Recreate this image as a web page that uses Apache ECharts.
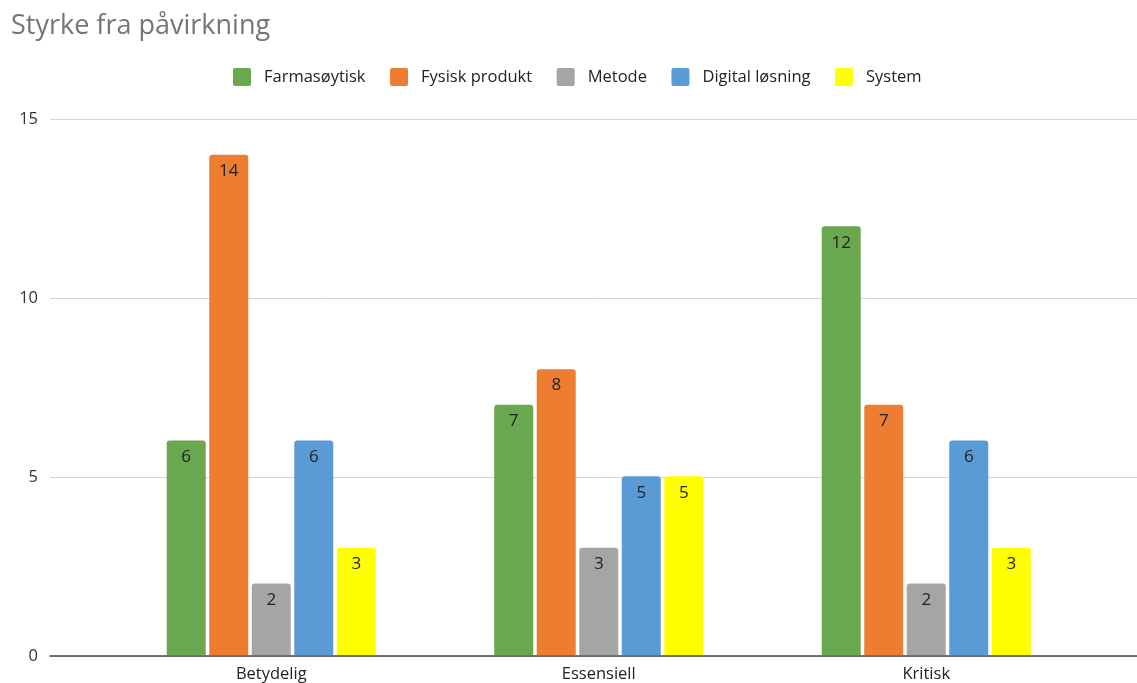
<!DOCTYPE html>
<html>
<head>
<meta charset="utf-8">
<script src="https://cdn.jsdelivr.net/npm/echarts@6/dist/echarts.min.js"></script>
<style>
  html, body { margin: 0; padding: 0; background: #fff; }
  #chart { width: 1137px; height: 683px; }
</style>
</head>
<body>
<div id="chart"></div>
<script>
// Categories and counts per impact type
const categories = ['Betydelig', 'Essensiell', 'Kritisk'];
const farmasoytisk = [6, 7, 12];
const fysiskProdukt = [14, 8, 7];
const metode = [2, 3, 2];
const digitalLosning = [6, 5, 6];
const system = [3, 5, 3];
const yTicks = { min: 0, max: 15, interval: 5 };

const seriesDefs = [
  { name: 'Farmasøytisk', data: farmasoytisk, color: '#6aa84f' },
  { name: 'Fysisk produkt', data: fysiskProdukt, color: '#ed7d31' },
  { name: 'Metode', data: metode, color: '#a5a5a5' },
  { name: 'Digital løsning', data: digitalLosning, color: '#5b9bd5' },
  { name: 'System', data: system, color: '#ffff00' }
];

const font = '"Open Sans", "Noto Sans", sans-serif';
const chart = echarts.init(document.getElementById('chart'));

chart.setOption({
  animation: false,
  textStyle: { fontFamily: font },
  title: {
    text: 'Styrke fra påvirkning',
    left: 6, top: 8,
    textStyle: { fontFamily: font, fontSize: 27, fontWeight: 'normal', color: '#757575' }
  },
  legend: {
    top: 63, left: 228,
    itemWidth: 18, itemHeight: 18, itemGap: 24.5,
    icon: 'path://M2,0 L16,0 Q18,0 18,2 L18,16 Q18,18 16,18 L2,18 Q0,18 0,16 L0,2 Q0,0 2,0 Z',
    textStyle: { fontFamily: font, fontSize: 16.5, color: '#222', padding: [0, 0, 0, 8] },
    data: seriesDefs.map(s => s.name)
  },
  grid: [
    // full-width grid carrying the gridlines and baseline
    { left: 50, right: 0, top: 119, bottom: 27 },
    // grid holding the bars
    { left: 107.5, right: 47, top: 119, bottom: 27 }
  ],
  xAxis: [
    {
      gridIndex: 0, type: 'value', min: 0, max: 1,
      axisLine: { show: true, lineStyle: { color: '#444', width: 1.5 } },
      axisTick: { show: false }, axisLabel: { show: false }, splitLine: { show: false }
    },
    {
      gridIndex: 1, type: 'category', data: categories,
      axisLine: { show: false }, axisTick: { show: false },
      axisLabel: { fontFamily: font, fontSize: 16.5, color: '#222', margin: 11 }
    }
  ],
  yAxis: [
    {
      gridIndex: 0, type: 'value', min: yTicks.min, max: yTicks.max, interval: yTicks.interval,
      axisLine: { show: false }, axisTick: { show: false },
      axisLabel: { fontFamily: font, fontSize: 16.5, color: '#333', margin: 12 },
      splitLine: { lineStyle: { color: '#d4d4d4', width: 1 } }
    },
    {
      gridIndex: 1, type: 'value', min: yTicks.min, max: yTicks.max, interval: yTicks.interval,
      show: false, splitLine: { show: false }
    }
  ],
  series: seriesDefs.map(s => ({
    name: s.name,
    type: 'bar',
    xAxisIndex: 1, yAxisIndex: 1,
    data: s.data,
    barWidth: 39,
    barGap: '9%',
    itemStyle: { color: s.color, borderRadius: [3, 3, 0, 0] },
    label: {
      show: true, position: 'insideTop', distance: 8,
      fontFamily: font, fontSize: 17, color: '#222'
    }
  }))
});
</script>
</body>
</html>
